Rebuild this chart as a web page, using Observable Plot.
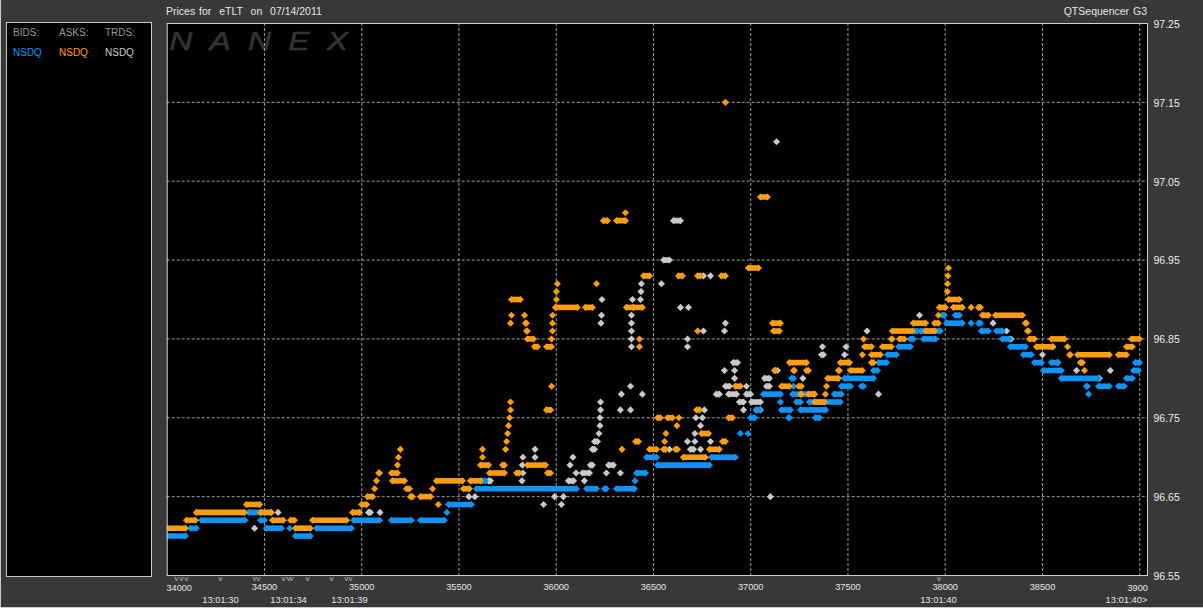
<!DOCTYPE html>
<html><head><meta charset="utf-8">
<script src="https://cdn.jsdelivr.net/npm/d3@7"></script>
<script src="https://cdn.jsdelivr.net/npm/@observablehq/plot@0.6"></script>
<style>
html,body{margin:0;padding:0;background:#383838;overflow:hidden}
#page{position:relative;width:1203px;height:608px;background:#383838;box-shadow:inset 1px 0 0 #cfcabd,inset 0 -1px 0 #cfcabd;font:10px "Liberation Sans",Arial,sans-serif;color:#e6e6e6}
#page svg{position:absolute;left:0;top:0;background:transparent}
.t{position:absolute;white-space:pre}
.h{font-size:10.5px;word-spacing:1px}
#legend{position:absolute;left:6px;top:22px;width:144px;height:553px;background:#000;border:1px solid #c8c8c8}
</style></head><body><div id="page">
<div class="t h" style="left:166px;top:5px">Prices for  eTLT  on  07/14/2011</div>
<div class="t h" style="right:56px;top:5px">QTSequencer G3</div>
<div id="legend">
<div class="t" style="left:6px;top:4px;color:#9a9a9a">BIDS:</div><div class="t" style="left:52px;top:4px;color:#9a9a9a">ASKS:</div><div class="t" style="left:98px;top:4px;color:#9a9a9a">TRDS:</div>
<div class="t" style="left:6px;top:24px;color:#0c94f7">NSDQ</div><div class="t" style="left:52px;top:24px;color:#ff9e0c">NSDQ</div><div class="t" style="left:98px;top:24px;color:#c9c9c9">NSDQ</div>
</div>
</div>
<script>
// Each row: price, then pairs of sequence numbers (run start, run end)
const bids = [
[96.60,34002,34094,34659,34736],
[96.61,34120,34150,34510,34587,34630,34630,34768,34947],
[96.62,34176,34400,34480,34500,34958,35092,35153,35256,35302,35425],
[96.63,34418,34531,35438,35438],
[96.64,35446,35564],
[96.66,35590,36104,36156,36207,36248,36258,36310,36402],
[96.67,35620,35635,36405,36405],
[96.68,36413,36459],
[96.69,36521,36788],
[96.70,36464,36516,36798,36921],
[96.73,36947,36947,36986,36986],
[96.75,36999,37020,37194,37199,37333,37354],
[96.76,37029,37045,37158,37204,37256,37385],
[96.77,37153,37153,37235,37256,37302,37461],
[96.78,37066,37153,37215,37328,37430,37466,38737,38737],
[96.79,37220,37220,37466,37513,37569,37580,38726,38731,38788,38844,38890,38921],
[96.80,37210,37220,37482,37631,38597,38788,38932,38962],
[96.81,37631,37652,38505,38597,38968,38994],
[96.82,37657,37698,38459,38495,38546,38577,38978,38999],
[96.83,37703,37749,38402,38443],
[96.84,37760,37821,38335,38412],
[96.85,37821,37836,37888,37950,38294,38330],
[96.86,37842,37857,37873,37975,38186,38222,38263,38294],
[96.87,38006,38088,38133,38133,38171,38181],
[96.88,37985,37996,38052,38073]
];
const asks = [
[96.61,34002,34094,34659,34736],
[96.62,34099,34145,34541,34597,34634,34654,34747,34922],
[96.63,34150,34397,34480,34536,34953,34989],
[96.64,34407,34475,34999,35025,35394,35394],
[96.65,35030,35056,35251,35261,35302,35354],
[96.66,35066,35066,35230,35246,35364,35364,35523,35554],
[96.67,35076,35076,35158,35220,35384,35518,35559,35611],
[96.68,35087,35092,35153,35184,35657,35734,35796,35811,35955,35971],
[96.69,35184,35184,35611,35652,35724,35734,35852,35945],
[96.70,35189,35189,35621,35621,36654,36767],
[96.71,35199,35199,35621,35621,35740,35740,36338,36338,36480,36516,36552,36562,36613,36623,36788,36839],
[96.72,35745,35745,36408,36423,36557,36557,36855,36870],
[96.73,35750,35750,36564,36564,36747,36783],
[96.74,35755,35755,36621,36621],
[96.75,35760,35760,36521,36536,36572,36598,36631,36631,36886,36906],
[96.76,35765,35765,35950,35971,36722,36737],
[96.77,35765,35765,37328,37379],
[96.78,37256,37261,37297,37328,37384,37384],
[96.79,35976,35976,36921,36947,37158,37199,37246,37261,37390,37390],
[96.80,37395,37451],
[96.81,37122,37127,37220,37225,37287,37297,37451,37456,37513,37574,38716,38716],
[96.82,37199,37287,37461,37508,37621,37631,38695,38705],
[96.83,37574,37574,37621,37667,38639,38644,38680,38844,38890,38932],
[96.84,35888,35904,35950,35976,36428,36428,37585,37621,37677,37723,38469,38551,38629,38629,38932,38962],
[96.85,35852,35883,35976,35976,36428,36428,37580,37580,37723,37728,37765,37790,38433,38459,38546,38613,38958,38999],
[96.86,35847,35852,35981,35981,36727,36727,37117,37148,37728,37831,37899,37945,38423,38428],
[96.87,35765,35765,35842,35847,35981,35981,37112,37153,37836,37899,37945,37965,38412,38417],
[96.88,35770,35770,35837,35837,35981,35981,37965,37965,38191,38222,38258,38397],
[96.89,35996,36109,36150,36186,36361,36443,37970,38001,38042,38088,38133,38133,38171,38181],
[96.90,35770,35816,36001,36001,38017,38073],
[96.91,36001,36001,38011,38011],
[96.92,36006,36006,36207,36207,38012,38012],
[96.93,36449,36480,36629,36649,36727,36742,36849,36870,38014,38014],
[96.94,36988,37040,38017,38017],
[97.00,36243,36263,36310,36356],
[97.01,36356,36356],
[97.03,37050,37086],
[97.15,36870,36870]
];
const trades = [
[96.61,34449,34449],
[96.63,34570,34570,35035,35045,35094,35094],
[96.64,35935,35935,36027,36027],
[96.65,35551,35551,35582,35582,35991,35991,36037,36037,37101,37101],
[96.67,35652,35662,35824,35824,36063,36089,36145,36145],
[96.68,35829,35829,36102,36102,36135,36171,36258,36258,36330,36330],
[96.69,35826,35826,36071,36071,36176,36186,36269,36294],
[96.70,35829,35829,35891,35891,36086,36086],
[96.71,35891,35891,36186,36197,36582,36582,36690,36706,36742,36742],
[96.72,36197,36212,36675,36675,36713,36713,36793,36793],
[96.73,36220,36220,36713,36713],
[96.74,36225,36225,36742,36742],
[96.75,36225,36225,36718,36718,36752,36752],
[96.76,36228,36228,36330,36330,36382,36382,36762,36762,36963,36963,37029,37050],
[96.77,36228,36228,36942,36963,37004,37050],
[96.78,36335,36335,36443,36443,36823,36839,36886,36927,36978,36999,37657,37657],
[96.79,36382,36382,36870,36891,36978,36978,37081,37096],
[96.80,36917,36917,37071,37096,37268,37268,38793,38793],
[96.81,36865,36865,36917,36917,37138,37138,38675,38675,38849,38849],
[96.82,36911,36932,38579,38579],
[96.83,37364,37374,37482,37482,38500,38500],
[96.84,36387,36387,36675,36675,37369,37369,37490,37490,38554,38554],
[96.85,36387,36387,36675,36675,38338,38338],
[96.86,36387,36387,36757,36757,36865,36865,37598,37598,38315,38315],
[96.87,36230,36230,36387,36387,36870,36870,38246,38246],
[96.88,36233,36233,36387,36387,37868,37868],
[96.89,36397,36397,36639,36639,36680,36680],
[96.90,36235,36235,36392,36392,36433,36433],
[96.91,36436,36436],
[96.92,36438,36438,36541,36541],
[96.93,36757,36757,36793,36793],
[96.95,36552,36582],
[97.00,36603,36639],
[97.10,37133,37133]
];
const xGrid = [34500,35000,35500,36000,36500,37000,37500,38000,38500,39000];
const yTicks = [96.55,96.65,96.75,96.85,96.95,97.05,97.15,97.25];
const yGrid = [96.65,96.75,96.85,96.95,97.05,97.15];
const xMiddleTicks = [34500,35000,35500,36000,36500,37000,37500,38000,38500];
const tradeMarks = [34048,34073,34099,34274,34449,34469,34598,34624,34639,34721,34845,34922,34942,37968];
const timeLabels = [[34274,"13:01:30"],[34624,"13:01:34"],[34937,"13:01:39"],[37965,"13:01:40"]];
const colors = {bid:"#0c94f7",ask:"#ff9e0c",trade:"#c9c9c9"};
const FONT = '"Liberation Sans",Arial,sans-serif';

const runs = rows => rows.flatMap(([p,...v]) => d3.range(0,v.length,2).map(i => ({p,a:v[i],b:v[i+1]})));
const ends = rs => rs.flatMap(r => r.a===r.b ? [{p:r.p,x:r.a}] : [{p:r.p,x:r.a},{p:r.p,x:r.b}]);
const series = (rows,color) => {
  const r = runs(rows);
  return [
    Plot.ruleY(r,{y:"p",x1:"a",x2:"b",stroke:color,strokeWidth:5.6,clip:true}),
    Plot.dot(ends(r),{x:"x",y:"p",r:3.2,symbol:"diamond2",fill:color,stroke:null,clip:true})
  ];
};
const chart = Plot.plot({
  width:1203,height:608,
  marginLeft:166.7,marginRight:56,marginTop:23,marginBottom:33,
  style:{background:"transparent",fontFamily:FONT,fontSize:"10px"},
  x:{domain:[34000,39040],label:null},
  y:{domain:[96.55,97.25],label:null},
  marks:[
    Plot.frame({fill:"#000"}),
    Plot.text(["NANEX"],{x:()=>34000,y:()=>97.25,dx:2,dy:18,text:d=>d,textAnchor:"start",fontSize:26,fontStyle:"italic",fill:"#333",stroke:"#333",strokeWidth:0.6,fontFamily:"Liberation Sans"}),
    Plot.gridX(xGrid,{stroke:"#9c9c9c",strokeOpacity:1,strokeDasharray:"3,2"}),
    Plot.gridY(yGrid,{stroke:"#9c9c9c",strokeOpacity:1,strokeDasharray:"3,2"}),
    ...series(trades,colors.trade),
    ...series(bids,colors.bid),
    ...series(asks,colors.ask),
    Plot.frame({stroke:"#d0d0d0"}),
    Plot.axisY(yTicks,{anchor:"right",tickSize:0,tickPadding:6,tickFormat:d3.format(".2f"),fill:"#ececec",fontSize:10.5,dy:1,label:null}),
    Plot.axisX(xMiddleTicks,{anchor:"bottom",tickSize:0,tickPadding:8,tickFormat:d=>String(d),fill:"#e6e6e6",fontSize:9.2,label:null}),
    Plot.text([34000],{x:d=>d,y:()=>96.55,dx:12,dy:13,text:d=>String(d),fill:"#e6e6e6",fontSize:9.2}),
    Plot.text([39000],{x:d=>d,y:()=>96.55,dx:-2,dy:13,text:()=>"3900",fill:"#e6e6e6",fontSize:9.2}),
    Plot.text(tradeMarks,{x:d=>d,y:()=>96.55,dy:3,text:()=>"v",fill:"#bdbdbd",fontSize:8}),
    Plot.text(timeLabels,{x:"0",y:()=>96.55,dy:24,text:"1",fill:"#e6e6e6",fontSize:9.4}),
    Plot.text(["13:01:40>"],{x:()=>39040,y:()=>96.55,dy:24,text:d=>d,textAnchor:"end",fill:"#e6e6e6",fontSize:9.4})
  ]
});
d3.select(chart).selectAll("text").filter(function(){return this.textContent==="NANEX"})
  .attr("letter-spacing",14).attr("textLength",196).attr("lengthAdjust","spacingAndGlyphs");
document.getElementById("page").appendChild(chart);
</script>
</body></html>
